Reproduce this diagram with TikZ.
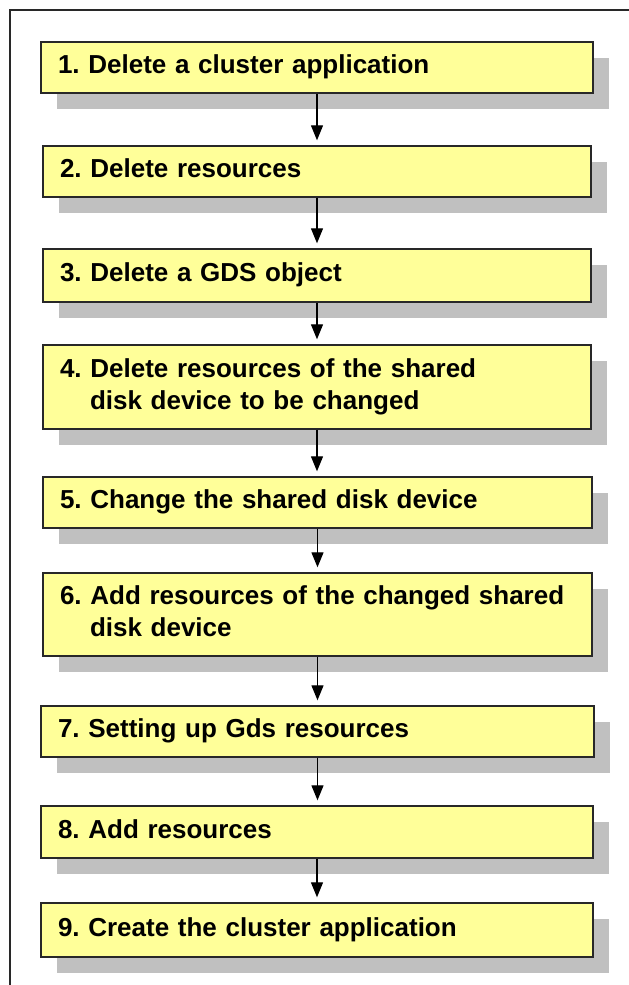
\documentclass[tikz,border=0pt]{standalone}
\usepackage{fontspec}
\setmainfont{Liberation Sans}
\usetikzlibrary{arrows.meta,shadows}
\definecolor{boxfill}{RGB}{255,255,153}
\definecolor{boxline}{RGB}{40,40,40}
\definecolor{shgray}{RGB}{192,192,192}
\frenchspacing
\begin{document}
\begin{tikzpicture}[x=1pt,y=-1pt,
  stepbox/.style={draw=boxline, line width=1.4pt, fill=boxfill, inner xsep=17pt, inner ysep=0pt,
    align=left, anchor=center,
    font=\fontsize{26}{32}\selectfont\bfseries\frenchspacing,
    general shadow={fill=shgray, shadow xshift=15.5pt, shadow yshift=-16pt}},
  arr/.style={line width=1.3pt, -{Triangle[length=15pt,width=12pt]}, shorten >=5pt},
  frameline/.style={line width=1.4pt, draw=boxline}]
\useasboundingbox (0,0) rectangle (629,985);
\draw[frameline] (629,10) -- (10,10) -- (10,985);
\node[stepbox, minimum width=552pt, minimum height=51pt, text width=518pt] (b1) at (317,67.5) {\strut 1. Delete a cluster application};
\node[stepbox, minimum width=548pt, minimum height=51pt, text width=514pt] (b2) at (317,171.5) {\strut 2. Delete resources};
\node[stepbox, minimum width=548pt, minimum height=53pt, text width=514pt] (b3) at (317,275.5) {\strut 3. Delete a GDS object};
\node[stepbox, minimum width=548pt, minimum height=84pt, text width=514pt] (b4) at (317,387) {\strut 4. Delete resources of the shared\\\strut\hspace*{30pt}disk device to be changed};
\node[stepbox, minimum width=549pt, minimum height=51pt, text width=515pt] (b5) at (317.5,502.5) {\strut 5. Change the shared disk device};
\node[stepbox, minimum width=549pt, minimum height=83pt, text width=515pt] (b6) at (317.5,614.5) {\strut 6. Add resources of the changed shared\\\strut\hspace*{30pt}disk device};
\node[stepbox, minimum width=553pt, minimum height=51pt, text width=519pt] (b7) at (317.5,731.5) {\strut 7. Setting up Gds resources};
\node[stepbox, minimum width=552pt, minimum height=52pt, text width=518pt] (b8) at (317,832) {\strut 8. Add resources};
\node[stepbox, minimum width=552pt, minimum height=54pt, text width=518pt] (b9) at (317,930) {\strut 9. Create the cluster application};
\draw[arr] (b1.south) -- (b1.south |- b2.north);
\draw[arr] (b2.south) -- (b2.south |- b3.north);
\draw[arr] (b3.south) -- (b3.south |- b4.north);
\draw[arr] (b4.south) -- (b4.south |- b5.north);
\draw[arr] (b5.south) -- (b5.south |- b6.north);
\draw[arr] (b6.south) -- (b6.south |- b7.north);
\draw[arr] (b7.south) -- (b7.south |- b8.north);
\draw[arr] (b8.south) -- (b8.south |- b9.north);
\end{tikzpicture}
\end{document}
